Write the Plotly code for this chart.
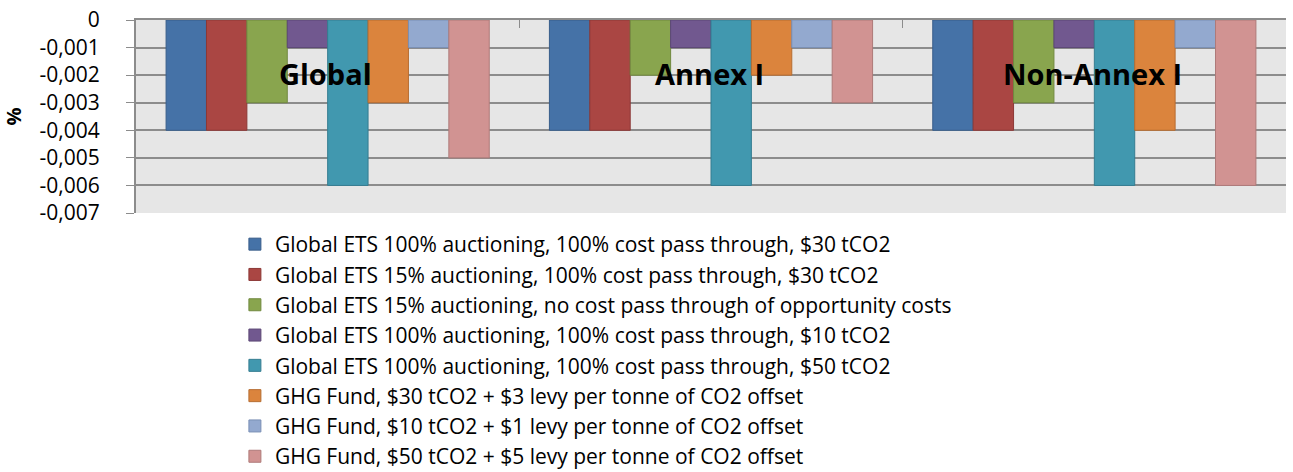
import plotly.graph_objects as go

categories = ["Global", "Annex I", "Non-Annex I"]
series_names = [
    "Global ETS 100% auctioning, 100% cost pass through, $30 tCO2",
    "Global ETS 15% auctioning, 100% cost pass through, $30 tCO2",
    "Global ETS 15% auctioning, no cost pass through of opportunity costs",
    "Global ETS 100% auctioning, 100% cost pass through, $10 tCO2",
    "Global ETS 100% auctioning, 100% cost pass through, $50 tCO2",
    "GHG Fund, $30 tCO2 + $3 levy per tonne of CO2 offset",
    "GHG Fund, $10 tCO2 + $1 levy per tonne of CO2 offset",
    "GHG Fund, $50 tCO2 + $5 levy per tonne of CO2 offset",
]
ets100_30 = [-0.004, -0.004, -0.004]
ets15_30 = [-0.004, -0.004, -0.004]
ets15_nopass = [-0.003, -0.002, -0.003]
ets100_10 = [-0.001, -0.001, -0.001]
ets100_50 = [-0.006, -0.006, -0.006]
ghg_30 = [-0.003, -0.002, -0.004]
ghg_10 = [-0.001, -0.001, -0.001]
ghg_50 = [-0.005, -0.003, -0.006]
series_values = [ets100_30, ets15_30, ets15_nopass, ets100_10, ets100_50, ghg_30, ghg_10, ghg_50]

fill_colors = ["#4572A7", "#AA4643", "#89A54E", "#71588F", "#4198AF", "#DB843D", "#93A9CF", "#D19392"]
line_colors = ["#385D8A", "#8C3836", "#71893F", "#5C4776", "#357D91", "#B66D31", "#7A8FB5", "#AE7A79"]

y_tickvals = [0, -0.001, -0.002, -0.003, -0.004, -0.005, -0.006, -0.007]
y_ticktext = ["0", "-0,001", "-0,002", "-0,003", "-0,004", "-0,005", "-0,006", "-0,007"]
label_y = -0.002

fig = go.Figure()
for name, vals, fc, lc in zip(series_names, series_values, fill_colors, line_colors):
    fig.add_trace(go.Bar(
        x=categories, y=vals, name=name,
        marker=dict(color=fc, line=dict(color=lc, width=1)),
    ))

for c in categories:
    fig.add_annotation(x=c, y=label_y, text="<b>%s</b>" % c, showarrow=False,
                       font=dict(family="Open Sans", size=29, color="black"),
                       xref="x", yref="y", yshift=2, xshift=-2)

fig.update_layout(
    width=1293, height=472,
    margin=dict(l=136, r=7, t=20, b=259, autoexpand=False),
    barmode="group", bargap=0.157, bargroupgap=0,
    plot_bgcolor="#E6E6E6", paper_bgcolor="white",
    font=dict(family="Open Sans", size=17, color="black"),
    showlegend=True,
    legend=dict(
        orientation="v", x=0.086, xanchor="left", y=-0.057, yanchor="top",
        font=dict(family="Open Sans", size=21, color="black"),
        itemwidth=30, tracegroupgap=0, traceorder="normal", maxheight=1,
    ),
)
fig.update_xaxes(
    side="top", showticklabels=False, ticks="inside", tickson="boundaries",
    ticklen=8, tickcolor="#8C8C8C", showline=True, linecolor="#8C8C8C", linewidth=2,
    showgrid=False, mirror=False,
)
fig.update_yaxes(
    range=[-0.007, 0], tickvals=y_tickvals, ticktext=y_ticktext,
    ticks="outside", ticklen=8, tickcolor="#8C8C8C", ticklabelstandoff=22,
    showline=True, linecolor="#8C8C8C", linewidth=2,
    showgrid=True, gridcolor="#8C8C8C", gridwidth=1.5, zeroline=False,
    title=dict(text="<b>%</b>", font=dict(family="Open Sans", size=20), standoff=15),
    tickfont=dict(family="Open Sans", size=21),
)

fig.write_html("out.html", config={"displayModeBar": False},
               post_script="document.body.style.margin='0';")
